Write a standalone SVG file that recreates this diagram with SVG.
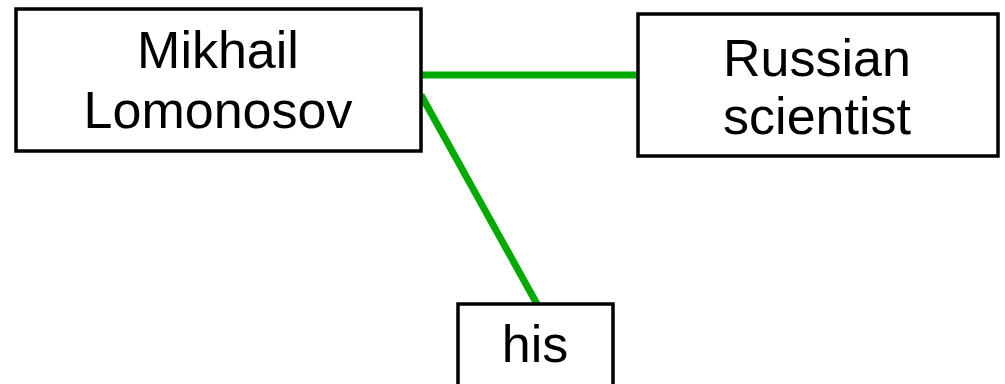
<svg xmlns="http://www.w3.org/2000/svg" width="1005" height="384" viewBox="0 0 1005 384">
  <style>
    .box { fill: #ffffff; stroke: #000000; stroke-width: 3.5; }
    .label { font-family: "Liberation Sans", Arial, sans-serif; font-size: 52px; fill: #000000; text-anchor: middle; }
    .link { stroke: #00aa00; stroke-width: 7; fill: none; }
  </style>
  <rect width="1005" height="384" fill="#ffffff"/>
  <g id="connectors">
    <line class="link" x1="421" y1="75" x2="637" y2="75"/>
    <line class="link" x1="421" y1="95" x2="537" y2="304"/>
  </g>
  <g id="node-lomonosov">
    <rect class="box" x="16" y="9" width="405" height="142"/>
    <text class="label" x="218" y="68">Mikhail</text>
    <text class="label" x="218" y="128">Lomonosov</text>
  </g>
  <g id="node-scientist">
    <rect class="box" x="638" y="14" width="360" height="142"/>
    <text class="label" x="817" y="76">Russian</text>
    <text class="label" x="817" y="134">scientist</text>
  </g>
  <g id="node-his">
    <rect class="box" x="458" y="304" width="155" height="100"/>
    <text class="label" x="535" y="362">his</text>
  </g>
</svg>
